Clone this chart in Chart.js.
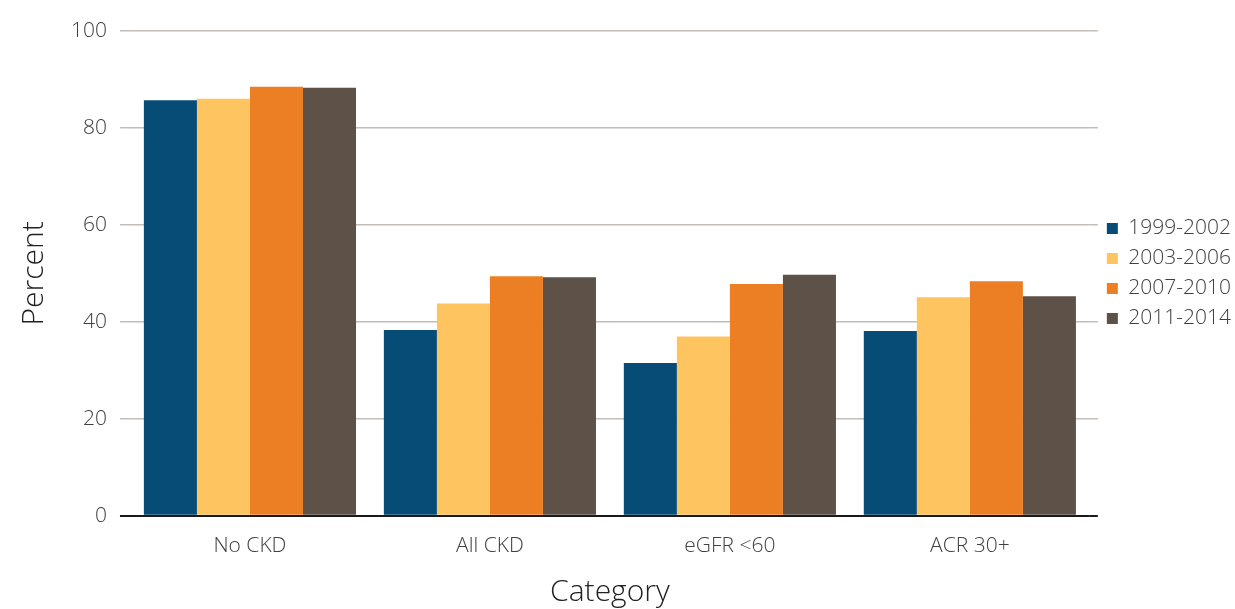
<!DOCTYPE html>
<html>
<head>
<meta charset="utf-8">
<script src="https://cdn.jsdelivr.net/npm/chart.js@4/dist/chart.umd.min.js"></script>
<style>
  html, body { margin: 0; padding: 0; background: #fff; }
  #wrap { width: 1235px; height: 609px; position: relative; }
</style>
</head>
<body>
<div id="wrap"><canvas id="c" width="1235" height="609"></canvas></div>
<script>
// Categories and period series (percent)
const categories = ['No CKD', 'All CKD', 'eGFR <60', 'ACR 30+'];
const periods = ['1999-2002', '2003-2006', '2007-2010', '2011-2014'];
const v1999 = [85.7, 38.3, 31.5, 38.1];
const v2003 = [86.0, 43.8, 37.0, 45.1];
const v2007 = [88.5, 49.4, 47.8, 48.4];
const v2011 = [88.3, 49.2, 49.7, 45.3];
const yTicks = [0, 20, 40, 60, 80, 100];

const colors = ['#074B77', '#FDC45F', '#EC7F23', '#5E5147'];
const series = [v1999, v2003, v2007, v2011];

const FONT = '"Open Sans", "Noto Sans", sans-serif';

// Gridlines: the zero line doubles as the dark baseline
const gridColor = (ctx) => (ctx.tick && ctx.tick.value === 0 ? '#1a1a1a' : '#C4BCB7');
const gridWidth = (ctx) => (ctx.tick && ctx.tick.value === 0 ? 2 : 1.5);
const fixedTicks = (axis) => { axis.ticks = yTicks.map(v => ({ value: v })); };

new Chart(document.getElementById('c'), {
  type: 'bar',
  data: {
    labels: categories,
    datasets: series.map((d, i) => ({
      label: periods[i],
      data: d,
      backgroundColor: colors[i],
      borderWidth: 0,
      categoryPercentage: 0.884,
      barPercentage: 1.0
    }))
  },
  options: {
    responsive: false,
    animation: false,
    layout: { padding: { top: 31, right: -6, left: 16, bottom: 2 } },
    plugins: {
      tooltip: { enabled: false },
      legend: {
        position: 'right',
        align: 'center',
        fullSize: false,
        labels: {
          boxWidth: 11,
          boxHeight: 11,
          padding: 9,
          color: '#404040',
          font: { family: FONT, size: 21, weight: 300 }
        }
      }
    },
    scales: {
      x: {
        grid: { display: false, drawTicks: false },
        border: { display: false },
        ticks: { color: '#404040', padding: 18, font: { family: FONT, size: 21, weight: 300 } },
        title: { display: true, text: 'Category', color: '#222', padding: { top: 0, bottom: 0 },
                 font: { family: FONT, size: 30, weight: 300, lineHeight: 1.0 } }
      },
      y: {
        min: 0, max: 100,
        afterBuildTicks: fixedTicks,
        grid: { color: gridColor, lineWidth: gridWidth, drawTicks: true, tickLength: 10 },
        border: { display: false },
        ticks: { color: '#404040', padding: 13, font: { family: FONT, size: 21, weight: 300 } },
        title: { display: true, text: 'Percent', color: '#222', padding: { top: 0, bottom: 6 },
                 font: { family: FONT, size: 30, weight: 300 } }
      },
      yRight: {
        position: 'right',
        min: 0, max: 100,
        afterBuildTicks: fixedTicks,
        grid: { color: gridColor, lineWidth: gridWidth, drawOnChartArea: false, drawTicks: true, tickLength: 8 },
        border: { display: false },
        ticks: { display: false }
      }
    }
  }
});
</script>
</body>
</html>
